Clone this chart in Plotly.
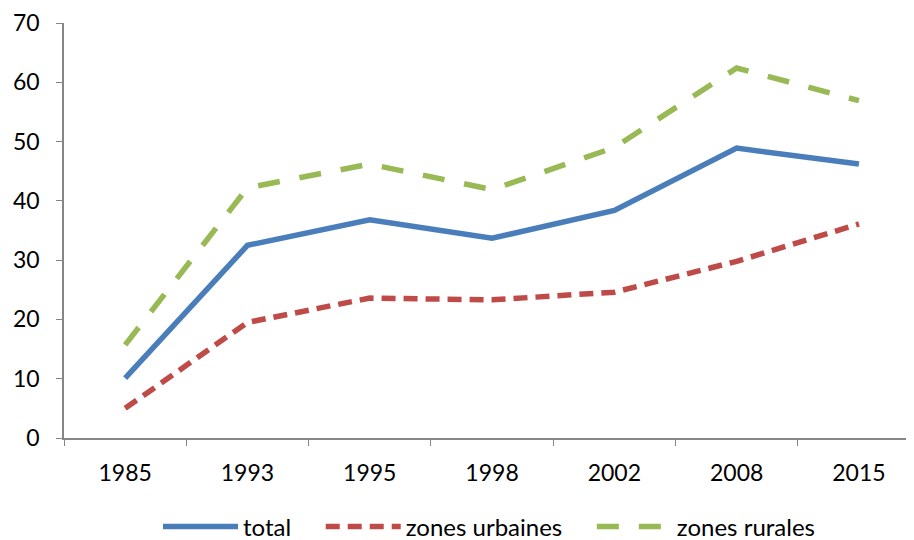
import plotly.graph_objects as go

years = ["1985", "1993", "1995", "1998", "2002", "2008", "2015"]
total = [10.1, 32.5, 36.8, 33.7, 38.4, 48.9, 46.2]
urbaines = [5.0, 19.5, 23.6, 23.3, 24.6, 29.8, 36.1]
rurales = [15.7, 42.2, 46.2, 41.9, 49.0, 62.4, 56.9]

BLUE = "#4a7ebb"
RED = "#be4b48"
GREEN = "#98b954"

fig = go.Figure()

fig.add_trace(go.Scatter(
    x=years, y=total, mode="lines", name="total\u00a0\u00a0\u00a0\u00a0",
    line=dict(color=BLUE, width=5.5)
))
fig.add_trace(go.Scatter(
    x=years, y=urbaines, mode="lines", name="zones urbaines\u00a0\u00a0\u00a0\u00a0",
    line=dict(color=RED, width=5.5, dash="14px,8px")
))
fig.add_trace(go.Scatter(
    x=years, y=rurales, mode="lines", name="zones rurales",
    line=dict(color=GREEN, width=5.5, dash="22px,20px")
))

# the page body has an 8px margin, so the figure is a bit smaller than the window
fig.update_layout(
    width=906, height=532,
    plot_bgcolor="white",
    paper_bgcolor="white",
    font=dict(family="Lato, Open Sans, sans-serif", size=23, color="black"),
    margin=dict(l=56, r=0, t=15, b=102, autoexpand=False),
    showlegend=True,
    legend=dict(
        orientation="h",
        x=0.5, xanchor="center",
        y=-0.214, yanchor="middle",
        font=dict(size=24),
        itemwidth=75,
    ),
)

# axes
fig.update_xaxes(
    type="category",
    range=[-0.5, 6.45],
    automargin=False,
    showline=True, linecolor="#868686", linewidth=1.5,
    ticks="outside", tickson="boundaries", ticklen=6, tickcolor="#868686",
    ticklabelstandoff=14,
    showgrid=False, zeroline=False,
)
fig.update_yaxes(
    range=[0, 70], dtick=10,
    automargin=False,
    showline=True, linecolor="#868686", linewidth=1.5,
    ticks="outside", ticklen=6, tickcolor="#868686",
    ticklabelstandoff=12,
    showgrid=False, zeroline=False,
)

fig.write_html("out.html")
